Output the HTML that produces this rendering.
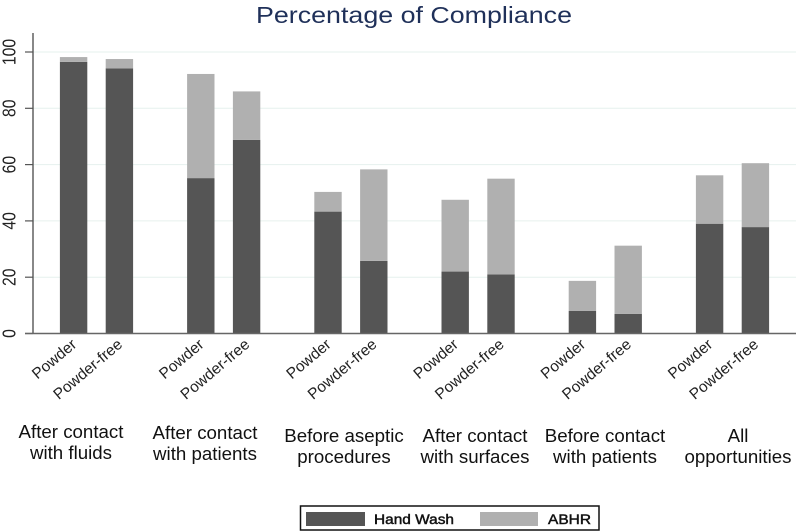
<!DOCTYPE html>
<html lang="en">
<head>
<meta charset="utf-8">
<title>Percentage of Compliance</title>
<style>
html,body{margin:0;padding:0;background:#fff;width:800px;height:531px;overflow:hidden}
svg{display:block;font-family:"Liberation Sans",Arial,sans-serif;filter:blur(0.35px)}
</style>
</head>
<body>
<svg id="chart" width="800" height="531" viewBox="0 0 800 531" xmlns="http://www.w3.org/2000/svg">
  <text x="256" y="23" font-size="23" fill="#1f3059" textLength="316" lengthAdjust="spacingAndGlyphs">Percentage of Compliance</text>
  <g id="grid"></g>
  <g id="bars"></g>
  <g id="axes"></g>
  <g id="xlabels"></g>
  <g id="groups"></g>
  <g>
    <rect x="300.5" y="506" width="298.5" height="24" fill="#fff" stroke="#111" stroke-width="1.5"/>
    <rect x="306" y="512" width="59" height="14" fill="#555555"/>
    <text x="374" y="524" font-size="13.5" fill="#111" stroke="#111" stroke-width="0.45" textLength="80" lengthAdjust="spacingAndGlyphs">Hand Wash</text>
    <rect x="480" y="512" width="58" height="14" fill="#b0b0b0"/>
    <text x="548" y="524" font-size="13.5" fill="#111" stroke="#111" stroke-width="0.45" textLength="43" lengthAdjust="spacingAndGlyphs">ABHR</text>
  </g>
</svg>
<script>
const groupLines = [
  ["After contact", "with fluids"],
  ["After contact", "with patients"],
  ["Before aseptic", "procedures"],
  ["After contact", "with surfaces"],
  ["Before contact", "with patients"],
  ["All", "opportunities"]
];
const gloveTypes = ["Powder", "Powder-free"];
const yTicks = [0, 20, 40, 60, 80, 100];
const handWash = [96.5, 94.2, 55.2, 68.8, 43.3, 25.8, 22, 21, 8, 7, 39, 37.8];
const abhr = [1.7, 3.3, 37, 17.2, 7, 32.5, 25.5, 34, 10.7, 24.2, 17.2, 22.7];

const NS = "http://www.w3.org/2000/svg";
function yScale(v) { return 333.5 - v * 2.815; }
function xScale(group, sub) { return 73.6 + group * 127.2 + sub * 45.8; }
function make(tag, parent, attrs) {
  const el = document.createElementNS(NS, tag);
  Object.keys(attrs).forEach(function (k) { el.setAttribute(k, attrs[k]); });
  parent.appendChild(el);
  return el;
}
const gridG = document.getElementById("grid");
const barsG = document.getElementById("bars");
const axesG = document.getElementById("axes");
const xlabelsG = document.getElementById("xlabels");
const groupsG = document.getElementById("groups");
const barWidth = 27.4;

yTicks.forEach(function (t) {
  const y = yScale(t);
  if (t > 0) {
    const g = make("line", gridG, { x1: 33, x2: 796, y1: y, y2: y, stroke: "#e6f1ee", "stroke-width": 1 });
    
    
  }
  const tick = make("line", axesG, { x1: 25, x2: 33, y1: y, y2: y, stroke: "#555", "stroke-width": 1.2 });
  
  
  const label = make("text", axesG, {
    transform: "translate(15.5," + y + ") rotate(-90) scale(0.85,1)",
    "text-anchor": "middle", "font-size": 18.5, fill: "#222"
  });
  
  
  label.textContent = t;
});

const yAxis = make("line", axesG, { x1: 33, x2: 33, y1: 33, y2: 333.5, stroke: "#555", "stroke-width": 1.4 });


const xAxis = make("line", axesG, { x1: 25, x2: 796, y1: 333.5, y2: 333.5, stroke: "#666", "stroke-width": 1.4 });



handWash.forEach(function (hw, i) {
  const group = Math.floor(i / gloveTypes.length);
  const sub = i % gloveTypes.length;
  const cx = xScale(group, sub);
  const top = hw + abhr[i];
  const b = make("rect", barsG, {
    x: cx - barWidth / 2, width: barWidth,
    y: yScale(hw), height: yScale(0) - yScale(hw), fill: "#555555"
  });
  
  
  const a = make("rect", barsG, {
    x: cx - barWidth / 2, width: barWidth,
    y: yScale(top), height: yScale(hw) - yScale(top), fill: "#b0b0b0"
  });
  
  
  const lx = cx + 4;
  const ly = 346;
  const t = make("text", xlabelsG, {
    transform: "translate(" + lx + "," + ly + ") rotate(-40)",
    "text-anchor": "end", "font-size": 15.5, fill: "#222"
  });
  
  
  t.textContent = gloveTypes[sub];
});

const groupCenters = [71, 205, 344, 475, 605, 738];
const groupBase = [438, 439, 442, 442, 442, 442];
groupLines.forEach(function (lines, g) {
  lines.forEach(function (line, n) {
    const t = make("text", groupsG, {
      x: groupCenters[g], y: groupBase[g] + n * 21,
      "text-anchor": "middle", "font-size": 18.7, fill: "#111"
    });
    
    
    t.textContent = line;
  });
});
</script>
</body>
</html>
